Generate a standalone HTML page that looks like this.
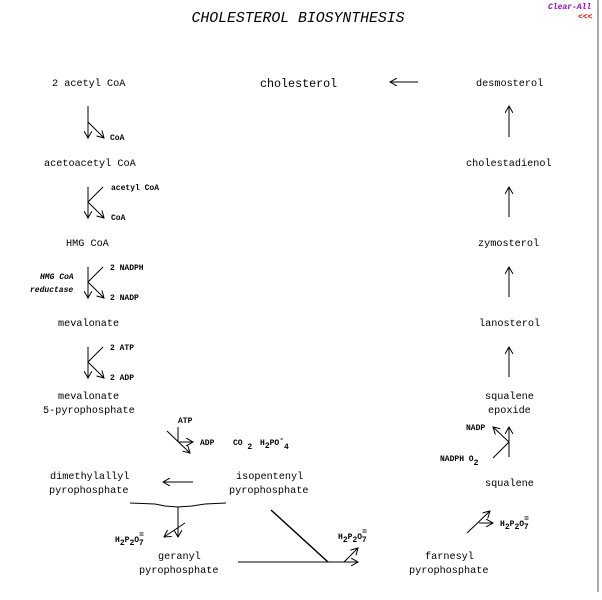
<!DOCTYPE html>
<html><head><style>
html,body{margin:0;padding:0;background:#fff;width:602px;height:600px;overflow:hidden}
svg{display:block}
text{font-family:"Liberation Mono",monospace;fill:#000}
.m{font-size:10.2px}
.s{font-size:8px;font-weight:bold}
</style></head><body>
<svg width="602" height="600" viewBox="0 0 602 600">
<defs>
<marker id="a" markerWidth="8" markerHeight="8" refX="7" refY="4" orient="auto" markerUnits="userSpaceOnUse">
<path d="M0,0 L7,4 L0,8" fill="none" stroke="#000" stroke-width="1"/></marker>
</defs>
<rect x="597" y="0" width="2" height="592" fill="#aaa"/>
<text x="298" y="22" text-anchor="middle" font-size="14.8" font-style="italic">CHOLESTEROL BIOSYNTHESIS</text>
<text x="548" y="9" font-size="8" font-style="italic" font-weight="bold" style="fill:#9900cc">Clear-All</text>
<text x="578" y="19" font-size="8" font-style="italic" font-weight="bold" style="fill:#e00">&lt;&lt;&lt;</text>

<g class="m">
<text x="52" y="86">2 acetyl CoA</text>
<text x="260" y="87" font-size="11.7">cholesterol</text>
<text x="476" y="86">desmosterol</text>
<text x="44" y="166">acetoacetyl CoA</text>
<text x="466" y="166">cholestadienol</text>
<text x="66" y="246">HMG CoA</text>
<text x="478" y="246">zymosterol</text>
<text x="58" y="326">mevalonate</text>
<text x="479" y="326">lanosterol</text>
<text x="58" y="399">mevalonate</text>
<text x="43" y="413">5-pyrophosphate</text>
<text x="485" y="399">squalene</text>
<text x="488" y="413">epoxide</text>
<text x="50" y="479">dimethylallyl</text>
<text x="49" y="493">pyrophosphate</text>
<text x="236" y="479">isopentenyl</text>
<text x="229" y="493">pyrophosphate</text>
<text x="485" y="486">squalene</text>
<text x="158" y="559">geranyl</text>
<text x="139" y="573">pyrophosphate</text>
<text x="425" y="559">farnesyl</text>
<text x="409" y="573">pyrophosphate</text>
</g>

<g stroke="#000" stroke-width="1" fill="none">
<line x1="418" y1="82" x2="390" y2="82" marker-end="url(#a)"/>
<line x1="509" y1="137" x2="509" y2="106" marker-end="url(#a)"/>
<line x1="509" y1="217" x2="509" y2="187" marker-end="url(#a)"/>
<line x1="509" y1="297" x2="509" y2="267" marker-end="url(#a)"/>
<line x1="509" y1="377" x2="509" y2="347" marker-end="url(#a)"/>
<line x1="88" y1="106" x2="88" y2="138" marker-end="url(#a)"/>
<line x1="88" y1="122" x2="104" y2="138" marker-end="url(#a)"/>
<line x1="88" y1="187" x2="88" y2="218" marker-end="url(#a)"/>
<polyline points="103,187 88,202"/>
<line x1="88" y1="202" x2="104" y2="218" marker-end="url(#a)"/>
<line x1="88" y1="267" x2="88" y2="298" marker-end="url(#a)"/>
<polyline points="103,267 88,282"/>
<line x1="88" y1="282" x2="104" y2="298" marker-end="url(#a)"/>
<line x1="88" y1="347" x2="88" y2="378" marker-end="url(#a)"/>
<polyline points="103,347 88,362"/>
<line x1="88" y1="362" x2="104" y2="378" marker-end="url(#a)"/>
<line x1="178" y1="427" x2="178" y2="442"/>
<line x1="178" y1="442" x2="193" y2="442" marker-end="url(#a)"/>
<line x1="167" y1="431" x2="190" y2="453" marker-end="url(#a)"/>
<line x1="193" y1="482" x2="163" y2="482" marker-end="url(#a)"/>
<path d="M130,503 L155,504 L165,506 L178,507 L192,506 L205,504 L226,503"/>
<line x1="178" y1="507" x2="178" y2="537" marker-end="url(#a)"/>
<line x1="185" y1="523" x2="164" y2="537" marker-end="url(#a)"/>
<line x1="238" y1="562" x2="358" y2="562" marker-end="url(#a)"/>
<line x1="271" y1="510" x2="328" y2="562" stroke-width="1.5"/>
<line x1="344" y1="562" x2="358" y2="548" marker-end="url(#a)"/>
<line x1="467" y1="533" x2="490" y2="511" marker-end="url(#a)"/>
<line x1="479" y1="523" x2="493" y2="523" marker-end="url(#a)"/>
<line x1="509" y1="457" x2="509" y2="427" marker-end="url(#a)"/>
<line x1="493" y1="458" x2="509" y2="442"/>
<line x1="509" y1="442" x2="493" y2="427" marker-end="url(#a)"/>
</g>

<g class="s">
<text x="110" y="140">CoA</text>
<text x="111" y="190">acetyl CoA</text>
<text x="111" y="220">CoA</text>
<text x="110" y="270">2  NADPH</text>
<text x="110" y="300">2  NADP</text>
<text x="40" y="279" font-style="italic">HMG CoA</text>
<text x="30" y="292" font-style="italic">reductase</text>
<text x="110" y="350">2  ATP</text>
<text x="110" y="380">2  ADP</text>
<text x="178" y="423">ATP</text>
<text x="200" y="445">ADP</text>
<text x="233" y="445">CO <tspan dy="4">2</tspan></text>
<text x="260" y="445">H<tspan dy="3">2</tspan><tspan dy="-3">PO</tspan><tspan dy="-4">-</tspan><tspan dy="8">4</tspan></text>
<text x="115" y="542">H<tspan dy="3">2</tspan><tspan dy="-3">P</tspan><tspan dy="3">2</tspan><tspan dy="-3">O</tspan><tspan dy="-5">=</tspan><tspan dx="-5" dy="8">7</tspan></text>
<text x="338" y="539">H<tspan dy="3">2</tspan><tspan dy="-3">P</tspan><tspan dy="3">2</tspan><tspan dy="-3">O</tspan><tspan dy="-5">=</tspan><tspan dx="-5" dy="8">7</tspan></text>
<text x="500" y="526">H<tspan dy="3">2</tspan><tspan dy="-3">P</tspan><tspan dy="3">2</tspan><tspan dy="-3">O</tspan><tspan dy="-5">=</tspan><tspan dx="-5" dy="8">7</tspan></text>
<text x="466" y="430">NADP</text>
<text x="440" y="461">NADPH  O<tspan dy="4">2</tspan></text>
</g>
</svg>
</body></html>
